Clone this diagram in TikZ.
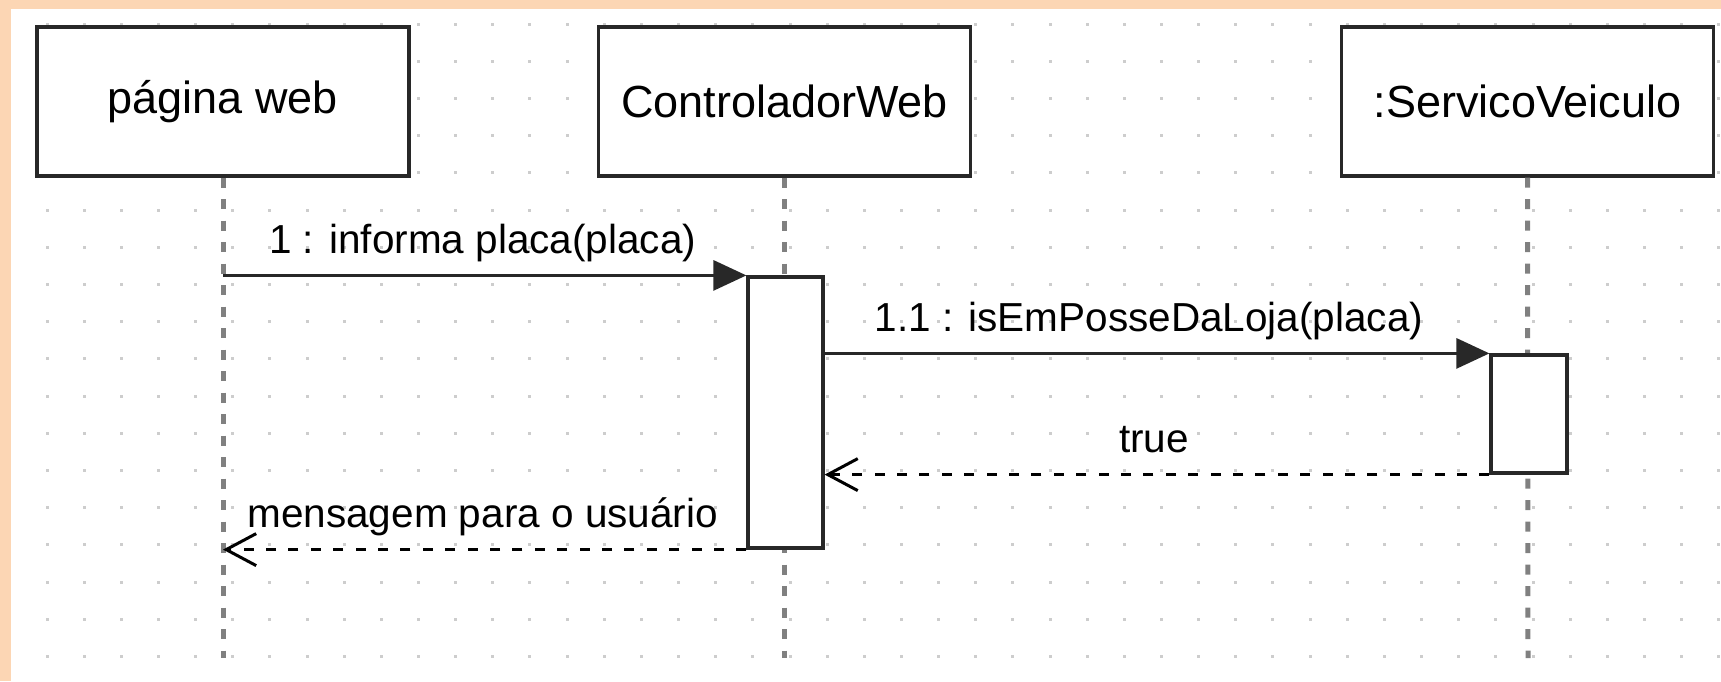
\documentclass[tikz,border=0pt]{standalone}
\usepackage{fontspec}
\setmainfont{Liberation Sans}
\usetikzlibrary{arrows.meta}
\definecolor{peach}{RGB}{252,214,180}
\definecolor{dotc}{RGB}{205,205,205}
\definecolor{lifec}{RGB}{128,128,128}
\definecolor{edgec}{RGB}{40,40,40}
\tikzset{
  objbox/.style={draw=edgec, line width=1.6pt, fill=white, rectangle, inner sep=0pt,
    minimum width=186pt, minimum height=74.5pt, font=\fontsize{22.5pt}{27pt}\selectfont},
  actbox/.style={draw=edgec, line width=1.6pt, fill=white, rectangle, inner sep=0pt},
  lifeline/.style={draw=lifec, line width=2.5pt, dash pattern=on 5pt off 5.75pt},
  callmsg/.style={draw=edgec, line width=1.5pt, -{Triangle[length=16.5pt,width=15pt]}},
  retmsg/.style={draw=black, line width=1.5pt, dash pattern=on 5pt off 6.2pt,
    -{Straight Barb[length=15pt,width=16pt]}},
  msglabel/.style={anchor=base, inner sep=0pt, font=\fontsize{20.25pt}{24pt}\selectfont},
}
\begin{document}
\begin{tikzpicture}[x=0.5pt, y=-0.5pt]
\useasboundingbox (0,0) rectangle (1721,681);
\fill[white] (0,0) rectangle (1721,681);
% dotted grid
\foreach \i in {-1,...,45} {
  \foreach \j in {0,...,17} {
    \fill[dotc] ({47+37.15*\i-1.5},{24+37.2*\j-1.5}) rectangle +(3,3);
  }
}
% peach frame strips
\fill[peach] (0,0) rectangle (1721,9);
\fill[peach] (0,0) rectangle (11,681);

% objects
\node[objbox] (b1) at (223,101.5) {página web};
\node[objbox] (b2) at (784.5,101.5) {ControladorWeb};
\node[objbox] (b3) at (1527.5,101.5) {:ServicoVeiculo};

% lifelines
\coordinate (e1) at (223,658);
\coordinate (e2) at (784.5,658);
\coordinate (e3) at (1528,658);
\draw[lifeline] (b1.south) -- (e1);
\draw[lifeline] (b2.south) -- (e2);
\draw[lifeline] (b3.south) -- (e3);

% activations
\node[actbox, minimum width=37.5pt, minimum height=135.5pt] (a1) at (785.5,412.5) {};
\node[actbox, minimum width=38pt, minimum height=59pt] (a2) at (1529,414) {};

% messages
\coordinate (s1) at (b1.south |- a1.north west);
\draw[callmsg] (s1) -- (a1.north west)
  node[msglabel, pos=0.5, yshift=11pt, xshift=-1pt] (l1) {1 : informa placa(placa)};
\coordinate (s2) at (a1.east |- a2.north west);
\draw[callmsg] (s2) -- (a2.north west)
  node[msglabel, pos=0.5, yshift=11pt, xshift=-4pt] (l2) {1.1 : isEmPosseDaLoja(placa)};
\coordinate (t3) at (a1.east |- a2.south west);
\draw[retmsg] (a2.south west) -- (t3)
  node[msglabel, pos=0.5, yshift=11pt, xshift=-1.5pt] (l3) {true};
\coordinate (t4) at (b1.south |- a1.south west);
\draw[retmsg] (a1.south west) -- (t4)
  node[msglabel, pos=0.5, yshift=11pt, xshift=-1pt] (l4) {mensagem para o usuário};
\end{tikzpicture}
\end{document}
